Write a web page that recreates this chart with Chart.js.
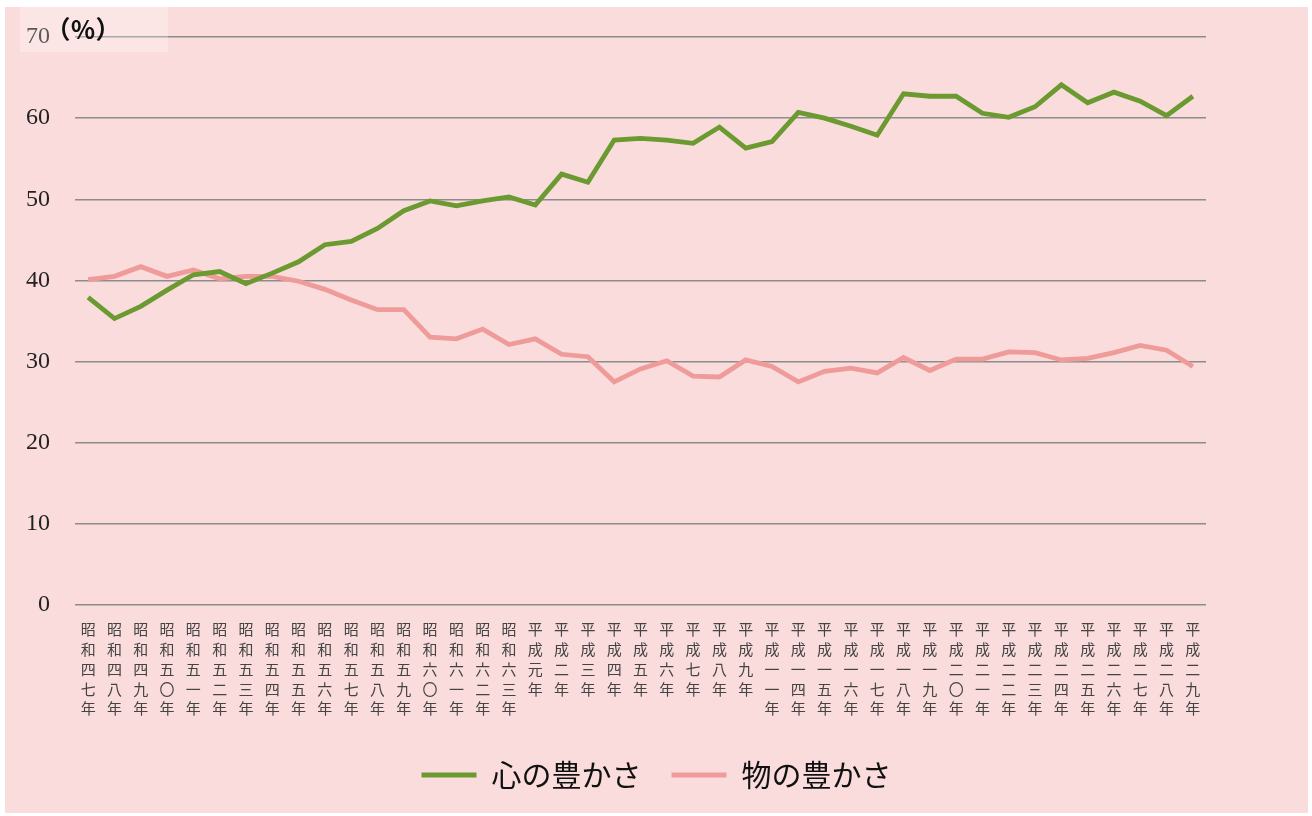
<!DOCTYPE html>
<html>
<head>
<meta charset="utf-8">
<script src="https://cdn.jsdelivr.net/npm/chart.js@4/dist/chart.umd.min.js"></script>
<style>
    body { margin: 0; background: #fff; }
    #wrap { position: absolute; left: 5px; top: 7px; width: 1303px; height: 806px; background: #FADCDC; }
</style>
</head>
<body>
<div id="wrap"><canvas id="yutakasaChart"></canvas></div>
<script>
// Survey years (shown as vertical text)
const years = ['昭和四七年', '昭和四八年', '昭和四九年', '昭和五〇年', '昭和五一年', '昭和五二年', '昭和五三年',
    '昭和五四年', '昭和五五年', '昭和五六年', '昭和五七年', '昭和五八年', '昭和五九年', '昭和六〇年',
    '昭和六一年', '昭和六二年', '昭和六三年', '平成元年', '平成二年', '平成三年', '平成四年', '平成五年',
    '平成六年', '平成七年', '平成八年', '平成九年', '平成一一年', '平成一四年', '平成一五年', '平成一六年',
    '平成一七年', '平成一八年', '平成一九年', '平成二〇年', '平成二一年', '平成二二年', '平成二三年',
    '平成二四年', '平成二五年', '平成二六年', '平成二七年', '平成二八年', '平成二九年'];

// 心の豊かさ (%)
const kokoroValues = [37.9, 35.3, 36.8, 38.8, 40.7, 41.1, 39.6, 40.9, 42.3, 44.4,
    44.8, 46.4, 48.6, 49.8, 49.2, 49.8, 50.3, 49.3, 53.1, 52.1,
    57.3, 57.5, 57.3, 56.9, 58.9, 56.3, 57.1, 60.7, 60.0, 59.0,
    57.9, 63.0, 62.7, 62.7, 60.6, 60.1, 61.4, 64.1, 61.9, 63.2,
    62.1, 60.3, 62.7];

// 物の豊かさ (%)
const monoValues = [40.1, 40.5, 41.7, 40.5, 41.3, 40.2, 40.5, 40.5, 39.9, 38.9,
    37.6, 36.4, 36.4, 33.0, 32.8, 34.0, 32.1, 32.8, 30.9, 30.6,
    27.5, 29.1, 30.1, 28.2, 28.1, 30.2, 29.4, 27.5, 28.8, 29.2,
    28.6, 30.5, 28.9, 30.3, 30.3, 31.2, 31.1, 30.2, 30.4, 31.1,
    32.0, 31.4, 29.4];

const yTicks = [0, 10, 20, 30, 40, 50, 60, 70];

// unit label "(%)" drawn on top of the chart
const unitLabel = {
    id: 'unitLabel',
    afterDraw(chart) {
        const ctx = chart.ctx;
        ctx.save();
        ctx.fillStyle = 'rgba(255, 255, 255, 0.25)';
        ctx.fillRect(15, 0, 148, 45);
        ctx.fillStyle = '#111';
        ctx.font = 'bold 25px "Noto Sans CJK JP"';
        ctx.textAlign = 'center';
        ctx.textBaseline = 'middle';
        ctx.fillText('（％）', 78, 22);
        ctx.restore();
    }
};

let lineChart = null;

document.addEventListener('DOMContentLoaded', function() {
    const ctx = document.getElementById('yutakasaChart').getContext('2d');

    lineChart = new Chart(ctx, {
        type: 'line',
        data: {
            labels: years,
            datasets: [{
                label: '心の豊かさ',
                data: kokoroValues,
                borderColor: '#6B9A31',
                backgroundColor: '#6B9A31',
                borderWidth: 4.8,
                pointRadius: 0,
                tension: 0
            }, {
                label: '物の豊かさ',
                data: monoValues,
                borderColor: '#EF9B9A',
                backgroundColor: '#EF9B9A',
                borderWidth: 4.8,
                pointRadius: 0,
                tension: 0
            }]
        },
        options: {
            responsive: true,
            maintainAspectRatio: false,
            animation: false,
            layout: {
                padding: { top: 30, right: 0, bottom: 13, left: 0 }
            },
            scales: {
                x: {
                    offset: true,
                    grid: { display: false },
                    border: { display: false },
                    afterFit: function(scale) { scale.height = 125; },
                    ticks: {
                        autoSkip: false,
                        maxRotation: 0,
                        minRotation: 0,
                        padding: 6,
                        color: '#444',
                        font: { size: 15, family: '"Noto Sans CJK JP"', lineHeight: 1.33 },
                        callback: function(value) {
                            return years[value].split('');
                        }
                    }
                },
                y: {
                    min: 0,
                    max: 70,
                    afterFit: function(scale) {
                        scale.width = 70;
                        scale.paddingTop = 0;
                        scale.paddingBottom = 0;
                    },
                    afterBuildTicks: function(scale) {
                        scale.ticks = yTicks.map(v => ({ value: v }));
                    },
                    grid: {
                        color: '#8C8C8C',
                        lineWidth: 1.5,
                        drawTicks: false
                    },
                    border: { display: false },
                    ticks: {
                        padding: 25,
                        color: '#222',
                        font: { size: 24, family: '"Liberation Serif"' }
                    }
                },
                // empty right-hand axis, only keeps space on the right of the plot
                yRight: {
                    position: 'right',
                    min: 0,
                    max: 70,
                    afterFit: function(scale) {
                        scale.width = 102;
                        scale.paddingTop = 0;
                        scale.paddingBottom = 0;
                    },
                    grid: { display: false },
                    border: { display: false },
                    ticks: { display: false }
                }
            },
            plugins: {
                legend: {
                    position: 'bottom',
                    labels: {
                        usePointStyle: true,
                        pointStyle: 'line',
                        pointStyleWidth: 55,
                        padding: 30,
                        color: '#111',
                        font: { size: 30, family: '"Noto Sans CJK JP"' }
                    }
                },
                tooltip: { enabled: false }
            }
        },
        plugins: [unitLabel]
    });
});
</script>
</body>
</html>
